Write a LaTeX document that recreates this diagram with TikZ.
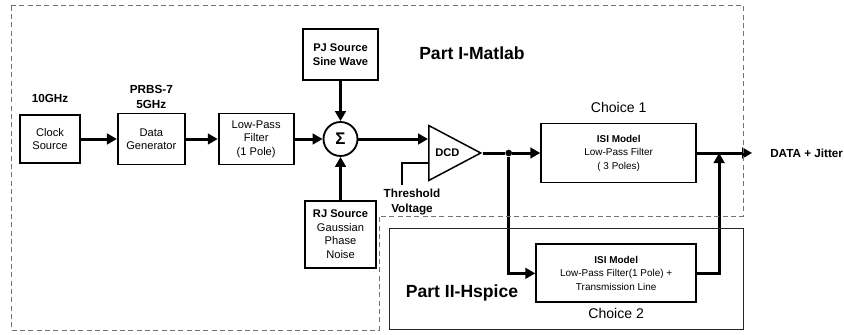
\documentclass[tikz,border=0pt]{standalone}
\usepackage{fontspec}
\setmainfont{Liberation Sans}
\usepackage{tikz}
\usetikzlibrary{arrows.meta,positioning,calc,shapes.geometric}
\newcommand{\blkfont}{\fontsize{9.5}{11.5}\selectfont}
\newcommand{\isifont}{\fontsize{8.5}{11.5}\selectfont}
\newcommand{\lblfont}{\fontsize{10}{13}\selectfont}
\tikzset{
  box/.style   ={draw, line width=0.55mm, align=center, inner sep=2pt, font=\blkfont},
  isi/.style   ={box, font=\isifont},
  sumnode/.style={draw, circle, line width=0.55mm, minimum size=10.2mm, inner sep=0pt, font=\Large\bfseries},
  dcdtri/.style={draw, isosceles triangle, isosceles triangle stretches, minimum width=16.5mm,
                 minimum height=15.6mm, inner sep=0pt, line width=0.45mm, font=\blkfont\bfseries},
  dot/.style   ={circle, fill, inner sep=0pt, minimum size=2mm},
  arr/.style   ={-{Triangle[length=3mm,width=3.2mm]}, line width=0.9mm},
  wire/.style  ={line width=0.9mm},
  thinwire/.style={line width=0.4mm},
  lbl/.style   ={align=center, font=\lblfont\bfseries},
  choice/.style={font=\fontsize{12}{14}\selectfont},
  part/.style  ={font=\fontsize{15}{18}\selectfont\bfseries},
  region/.style={dash pattern=on 1.5mm off 1mm, draw=black!55, line width=0.3mm},
  hsbox/.style ={draw=black!85, line width=0.3mm},
}
\begin{document}
\begin{tikzpicture}[x=0.3mm, y=-0.3mm]
  \useasboundingbox (0,0) rectangle (844,335);

  % source chain
  \node[box, minimum width=18mm, minimum height=14.4mm] (clk) at (50,139) {Clock\\Source};
  \node[box, minimum width=20.1mm, minimum height=15.3mm, right=10.8mm of clk] (gen) {Data\\Generator};
  \node[box, minimum width=22.5mm, minimum height=15.3mm, right=9.6mm of gen] (lpf) {Low-Pass\\Filter\\(1 Pole)};
  \node[sumnode, right=8.4mm of lpf] (sum) {Σ};
  \node[box, minimum width=22.5mm, minimum height=15.3mm, above=12mm of sum] (pj)
       {\textbf{PJ Source}\\\textbf{Sine Wave}};
  \node[box, minimum width=21.3mm, minimum height=20.1mm, below=12.9mm of sum] (rj)
       {\textbf{RJ Source}\\Gaussian\\Phase\\Noise};
  \node[lbl, above=2.1mm of clk] (clkf) {10GHz};
  \node[lbl, above=0mm of gen]   (genf) {PRBS-7\\5GHz};
  \foreach \a/\b in {clk/gen, gen/lpf, lpf/sum, pj/sum, rj/sum}
      \draw[arr] (\a) -- (\b);

  % duty cycle distortion
  \node[dcdtri, anchor=lower side] (dcd) at (428,153) {DCD};
  \draw[arr] (sum) -- (sum -| dcd.lower side);
  \node[lbl] (thr) at (412,202) {Threshold\\Voltage};
  \draw[thinwire] ($(dcd.lower side)+(0,-3mm)$) -| ([xshift=-3mm]thr.north);

  % ISI choices
  \node[dot] (jn) at ($(dcd.apex)+(7.8mm,0)$) {};
  \node[isi, minimum width=46.5mm, minimum height=17.7mm, right=8.4mm of jn] (c1)
       {\textbf{ISI Model}\\Low-Pass Filter\\( 3 Poles)};
  \node[isi, minimum width=48mm, minimum height=17.4mm, below=18mm of c1, xshift=-0.75mm] (c2)
       {\textbf{ISI Model}\\Low-Pass Filter(1 Pole) +\\Transmission Line};
  \node[choice, above=1.6mm of c1] (c1t) {Choice 1};
  \node[choice, below=0.2mm of c2] (c2t) {Choice 2};
  \node[lbl, anchor=west, right=20.7mm of c1] (out) {DATA + Jitter};
  \coordinate (mrg) at ($(c1.east)+(6.6mm,0)$);
  \draw[wire] (dcd.apex) -- (jn);
  \draw[arr] (jn) -- (c1);
  \draw[arr] (jn) |- (c2);
  \draw[arr, shorten >=4.2mm] (c1) -- (out);
  \draw[arr] (c2.east) -| (mrg);

  % tool regions
  \draw[region] (11,5) -- (743,5) -- (743,216) -- (379,216) -- (379,330) -- (11,330) -- cycle;
  \draw[hsbox] (389,228) rectangle (743,329);
  \node[part] (p1) at (472,53)  {Part I-Matlab};
  \node[part] (p2) at (462,293) {Part II-Hspice};
\end{tikzpicture}
\end{document}
